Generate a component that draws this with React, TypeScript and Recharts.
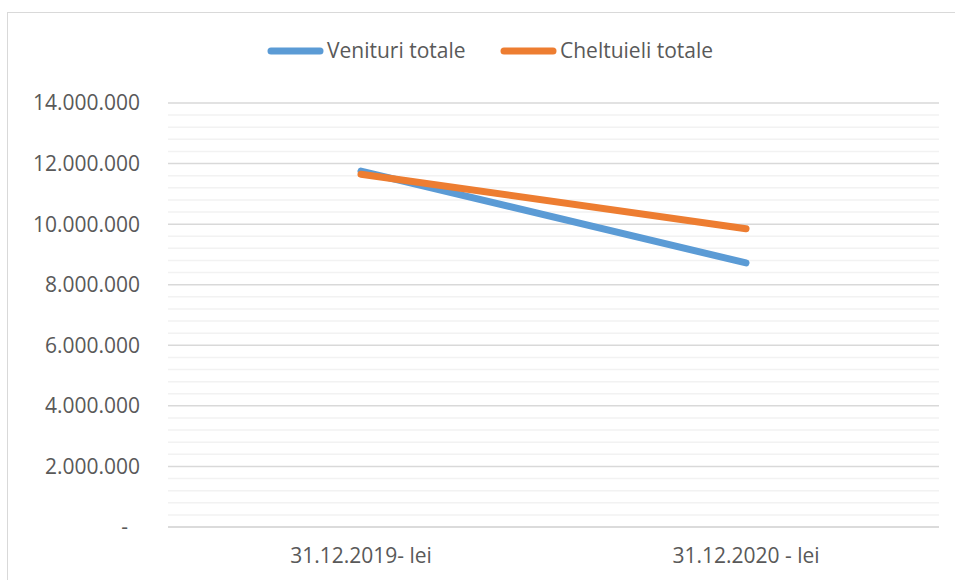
import { CartesianGrid, Line, LineChart, ReferenceLine, XAxis, YAxis } from 'recharts'

const categories = ['31.12.2019- lei', '31.12.2020 - lei']
const venituri = [11750000, 8720000]
const cheltuieli = [11650000, 9850000]
const majorTicks = [0, 2000000, 4000000, 6000000, 8000000, 10000000, 12000000, 14000000]
const minorTicks = [
  400000, 800000, 1200000, 1600000, 2400000, 2800000, 3200000, 3600000, 4400000, 4800000,
  5200000, 5600000, 6400000, 6800000, 7200000, 7600000, 8400000, 8800000, 9200000, 9600000,
  10400000, 10800000, 11200000, 11600000, 12400000, 12800000, 13200000, 13600000,
]

const series = [
  { key: 'venituri', name: 'Venituri totale', color: '#5B9BD5', legendX: 271 },
  { key: 'cheltuieli', name: 'Cheltuieli totale', color: '#ED7D31', legendX: 504 },
]

const data = categories.map((name, i) => ({
  name,
  venituri: venituri[i],
  cheltuieli: cheltuieli[i],
}))

const FONT = "'Open Sans', sans-serif"
const TEXT = '#595959'
const FS = 21

const fmt = (v: number) => (v === 0 ? '-' : v.toLocaleString('de-DE'))

function YTick(props: any) {
  const { x, y, payload } = props
  const zero = payload.value === 0
  return (
    <text
      x={zero ? x - 12 : x}
      y={y}
      dy="0.355em"
      textAnchor="end"
      fill={TEXT}
      fontSize={FS}
      fontFamily={FONT}
    >
      {fmt(payload.value)}
    </text>
  )
}

function ChartLegend() {
  return (
    <svg width={955} height={30} style={{ position: 'absolute', left: 0, top: 36 }}>
      {series.map((s) => (
        <g key={s.key}>
          <line x1={s.legendX} y1={15} x2={s.legendX + 49} y2={15} stroke={s.color} strokeWidth={7} strokeLinecap="round" />
          <text x={s.legendX + 56} y={15} dy="0.355em" fill={TEXT} fontSize={FS} fontFamily={FONT}>
            {s.name}
          </text>
        </g>
      ))}
    </svg>
  )
}

export default function App() {
  return (
    <div style={{ position: 'fixed', left: 0, top: 0, width: 955, height: 580, overflow: 'hidden', background: '#fff' }}>
      <div
        style={{
          position: 'absolute',
          left: 7,
          top: 12,
          width: 1000,
          height: 620,
          border: '1px solid #d9d9d9',
          boxSizing: 'border-box',
        }}
      />
      <div style={{ position: 'absolute', left: 0, top: 0 }}>
        <LineChart width={955} height={580} data={data} margin={{ top: 103, right: 16, bottom: 13, left: 8 }}>
          <CartesianGrid vertical={false} stroke="#d9d9d9" strokeWidth={1.5} />
          {minorTicks.map((t) => (
            <ReferenceLine key={t} y={t} stroke="#f2f2f2" strokeWidth={1.5} />
          ))}
          <XAxis
            dataKey="name"
            height={40}
            tickSize={0}
            tickMargin={21}
            padding={{ left: 193, right: 193 }}
            axisLine={{ stroke: '#d9d9d9', strokeWidth: 1.5 }}
            tick={{ fill: TEXT, fontSize: FS, fontFamily: FONT }}
          />
          <YAxis
            width={160}
            domain={[0, 14000000]}
            ticks={majorTicks}
            tickSize={0}
            tickMargin={28}
            axisLine={false}
            tick={<YTick />}
          />
          {series.map((s) => (
            <Line
              key={s.key}
              dataKey={s.key}
              name={s.name}
              stroke={s.color}
              strokeWidth={7}
              strokeLinecap="round"
              dot={false}
              activeDot={false}
              isAnimationActive={false}
            />
          ))}
        </LineChart>
      </div>
      <ChartLegend />
    </div>
  )
}
